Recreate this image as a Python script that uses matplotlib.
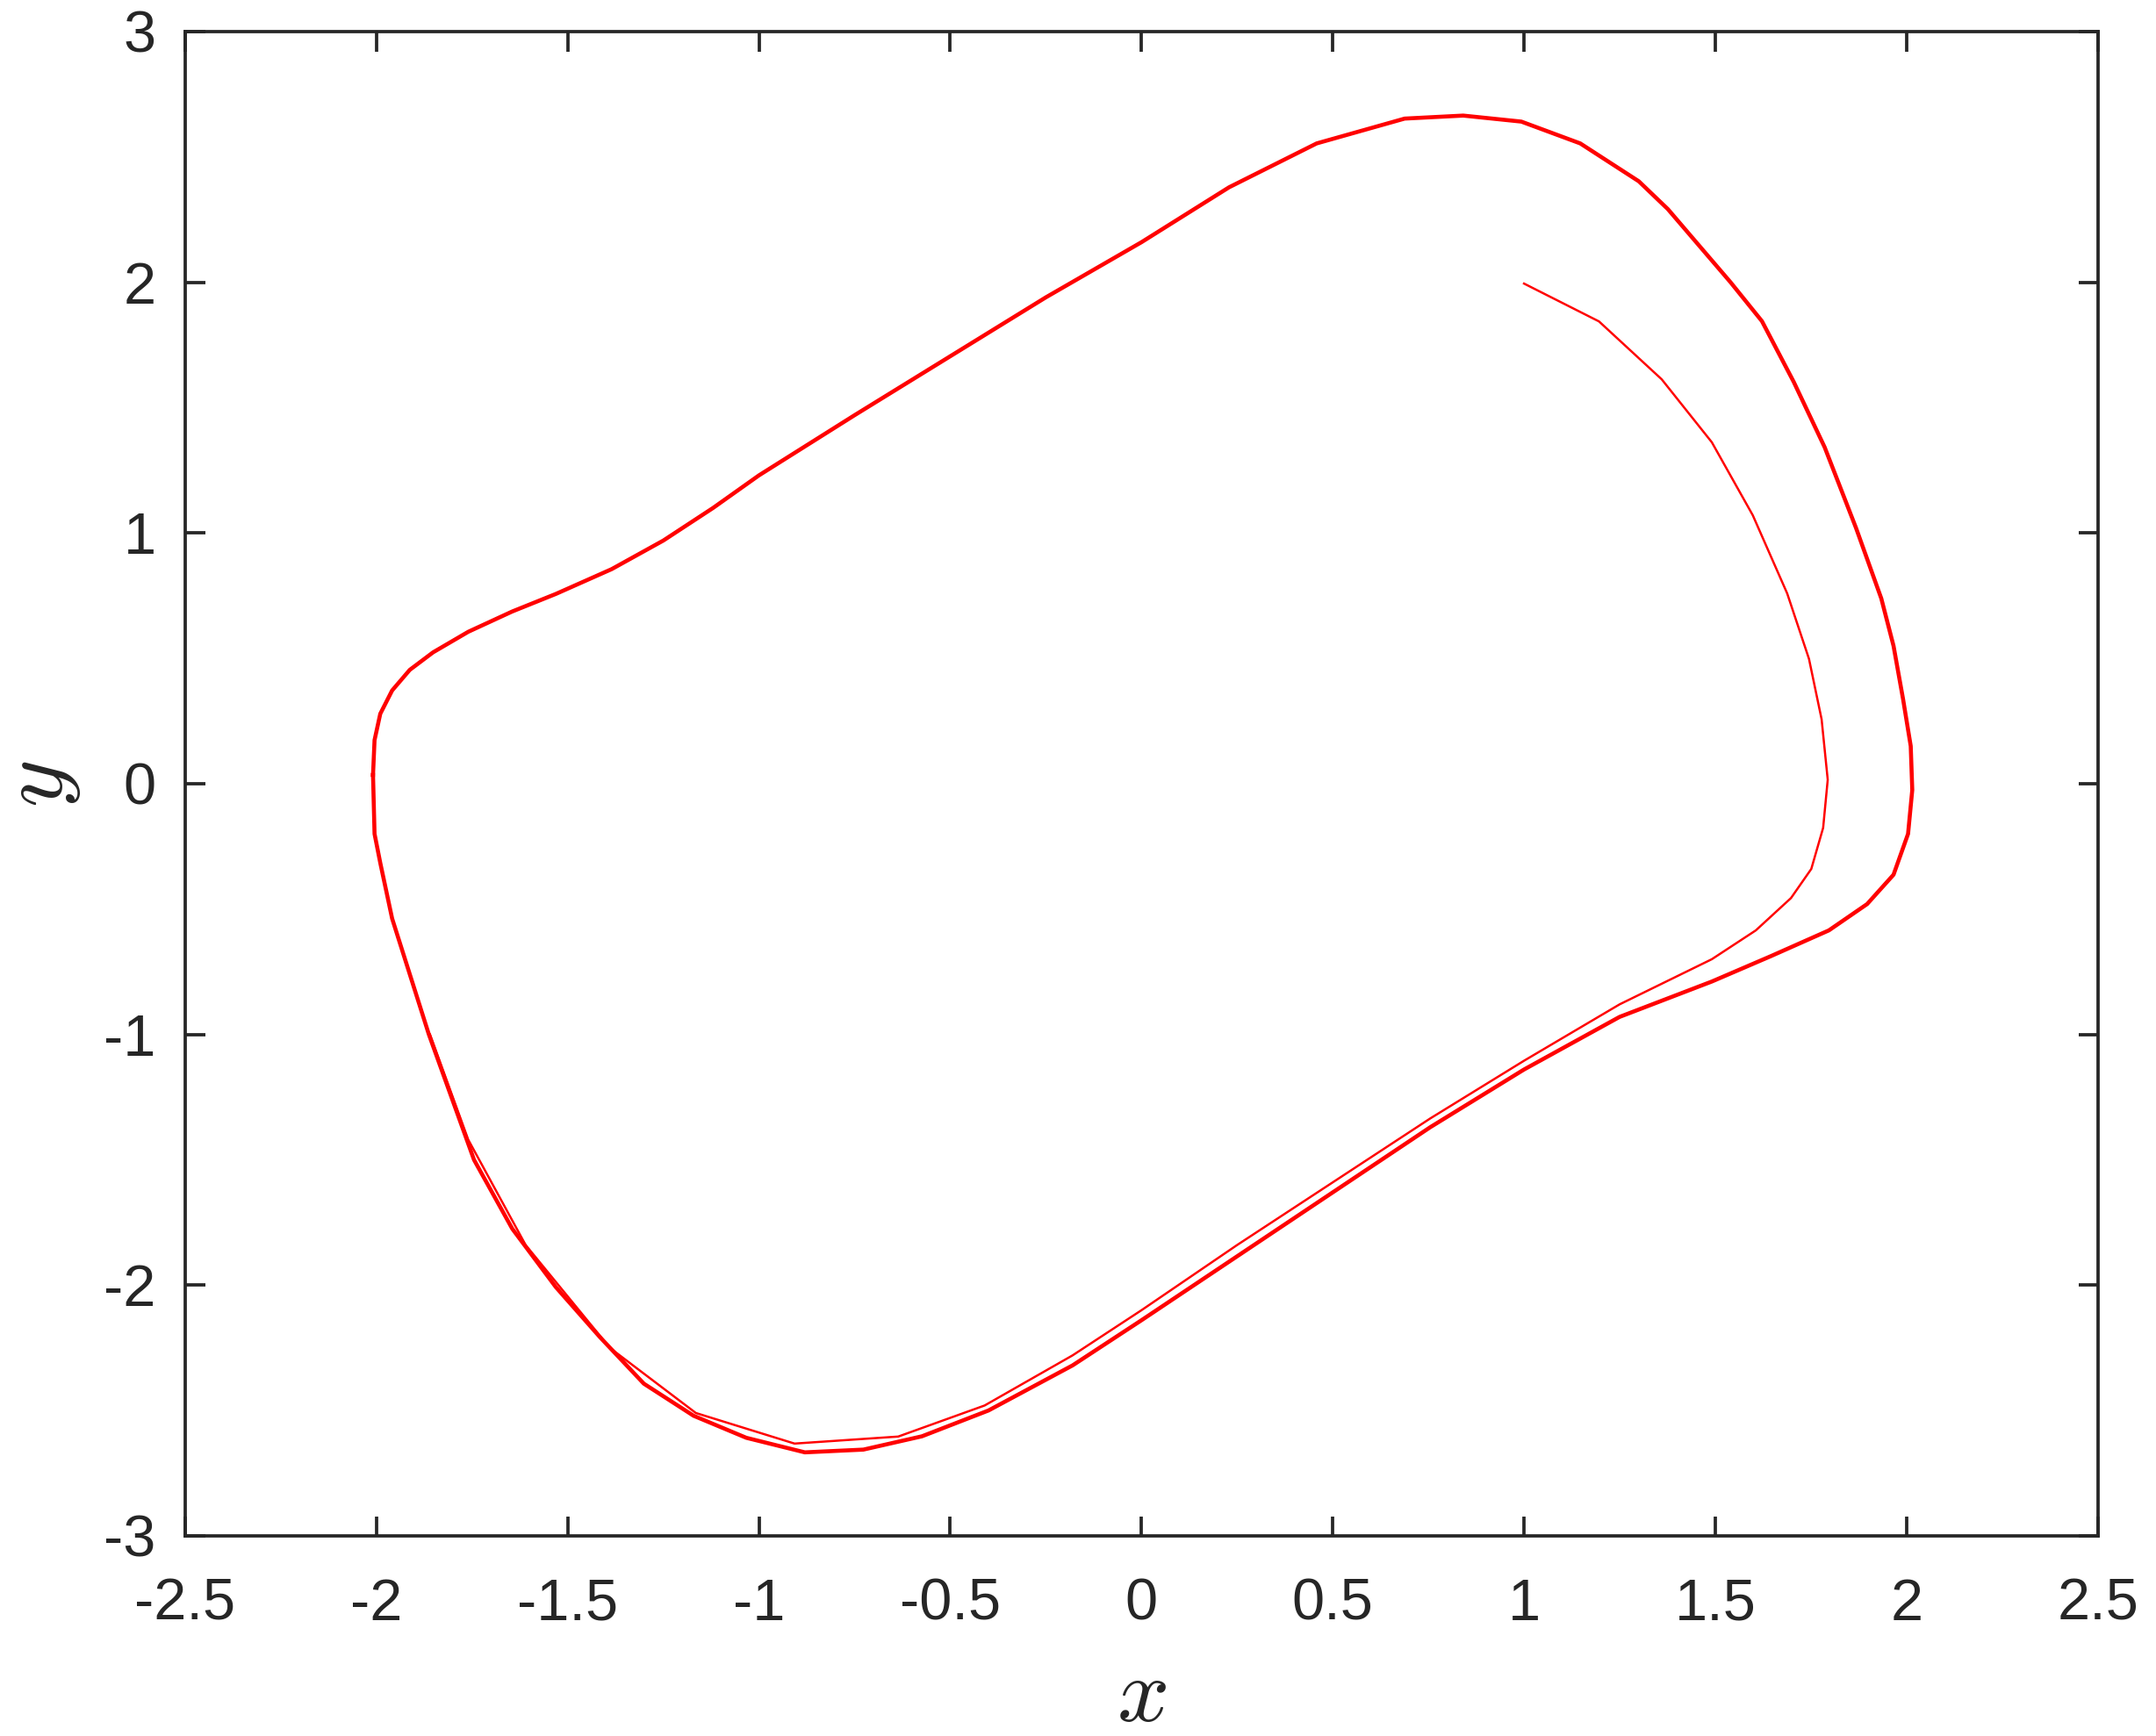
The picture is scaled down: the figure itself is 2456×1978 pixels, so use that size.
import matplotlib
matplotlib.use("Agg")
import matplotlib.pyplot as plt

# transient part, from the start point (1, 2) until it joins the cycle
trans_x = [1.00, 1.196, 1.36, 1.491, 1.598, 1.688, 1.745, 1.778, 1.794, 1.782,
           1.751, 1.698, 1.606, 1.491, 1.25, 1.00, 0.755, 0.50, 0.25, 0.00,
           -0.18, -0.41, -0.636, -0.907, -1.165, -1.39, -1.61, -1.76, -1.86]
trans_y = [1.995, 1.844, 1.613, 1.362, 1.071, 0.759, 0.498, 0.257, 0.016, -0.176,
           -0.34, -0.456, -0.585, -0.70, -0.88, -1.105, -1.335, -1.59, -1.84, -2.10,
           -2.28, -2.48, -2.604, -2.632, -2.51, -2.25, -1.84, -1.42, -1.00]

# limit cycle, clockwise from the left-most point
cyc_x = [-2.009, -2.005, -1.99, -1.959, -1.913, -1.852, -1.76, -1.645, -1.531,
         -1.385, -1.25, -1.12, -1.00, -0.75, -0.50, -0.25, 0.00, 0.229, 0.458,
         0.688, 0.841, 0.993, 1.147, 1.30, 1.376, 1.458, 1.54, 1.622, 1.705,
         1.786, 1.868, 1.934, 1.966, 1.991, 2.011, 2.015, 2.004, 1.966, 1.897,
         1.797, 1.645, 1.491, 1.25, 1.00, 0.755, 0.50, 0.25, 0.00, -0.18,
         -0.40, -0.574, -0.727, -0.88, -1.033, -1.171, -1.301, -1.416, -1.531,
         -1.645, -1.745, -1.863, -1.959, -1.99, -2.005, -2.009]
cyc_y = [0.035, 0.174, 0.279, 0.372, 0.454, 0.524, 0.606, 0.687, 0.757,
         0.856, 0.97, 1.10, 1.23, 1.47, 1.705, 1.94, 2.16, 2.379, 2.554,
         2.653, 2.665, 2.641, 2.554, 2.403, 2.292, 2.146, 2.0, 1.845, 1.603,
         1.342, 1.02, 0.739, 0.55, 0.337, 0.15, -0.025, -0.20, -0.363, -0.48,
         -0.585, -0.688, -0.789, -0.93, -1.14, -1.37, -1.63, -1.885, -2.14, -2.32,
         -2.50, -2.603, -2.656, -2.667, -2.609, -2.521, -2.393, -2.207, -2.008,
         -1.775, -1.50, -1.00, -0.538, -0.316, -0.20, 0.035]

xticks = [-2.5, -2, -1.5, -1, -0.5, 0, 0.5, 1, 1.5, 2, 2.5]
xtick_labels = ["-2.5", "-2", "-1.5", "-1", "-0.5", "0", "0.5", "1", "1.5", "2", "2.5"]
yticks = [-3, -2, -1, 0, 1, 2, 3]
ytick_labels = ["-3", "-2", "-1", "0", "1", "2", "3"]

plt.rcParams["font.family"] = ["Liberation Sans", "DejaVu Sans"]
plt.rcParams["mathtext.fontset"] = "cm"

fig = plt.figure(figsize=(2456/300., 1978/300.), dpi=300)
ax = fig.add_axes([0.0859, 0.1153, 0.8871, 0.8665])

ax.plot(trans_x, trans_y, color="#ff0000", lw=0.6)
ax.plot(cyc_x, cyc_y, color="#ff0000", lw=1.1)

ax.set_xlim(-2.5, 2.5)
ax.set_ylim(-3, 3)
ax.set_xticks(xticks)
ax.set_xticklabels(xtick_labels)
ax.set_yticks(yticks)
ax.set_yticklabels(ytick_labels)

dark = "#262626"
for s in ax.spines.values():
	s.set_linewidth(0.9)
	s.set_color(dark)
ax.tick_params(direction="in", length=5.4, width=0.9, color=dark,
	labelcolor=dark, labelsize=16, top=True, right=True)
ax.tick_params(axis="x", pad=11.5)
ax.tick_params(axis="y", pad=8)

# axis labels placed in figure pixels
ax.set_xlabel("$x$", fontsize=25, color=dark)
ax.set_ylabel("$y$", fontsize=25, color=dark)
ax.xaxis.set_label_coords(0.0859 + 0.8871/2, 1 - 1934/1978., transform=fig.transFigure)
ax.yaxis.set_label_coords(45/2456., 1 - 893/1978., transform=fig.transFigure)
ax.xaxis.label.set_va("center")
ax.yaxis.label.set_va("center")

fig.savefig("out.png", dpi=300)
